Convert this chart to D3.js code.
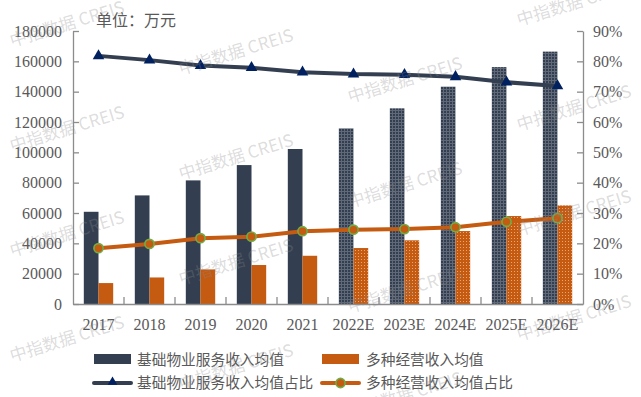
<!DOCTYPE html>
<html>
<head>
<meta charset="utf-8">
<script src="https://cdn.jsdelivr.net/npm/d3@7"></script>
<style>
  body { margin: 0; background: #fff; }
  svg { display: block; }
</style>
</head>
<body>
<svg id="chart" width="641" height="397"></svg>
<script>
// values (万元 and %)
var categories = ['2017', '2018', '2019', '2020', '2021', '2022E', '2023E', '2024E', '2025E', '2026E'];
var basicIncome = [60800, 71600, 81500, 91600, 102200, 115800, 129000, 143300, 156200, 166400];
var diversifiedIncome = [13800, 17500, 22800, 25700, 31800, 36900, 42000, 48100, 58000, 65000];
var basicShare = [81.8, 80.4, 78.6, 77.9, 76.4, 75.8, 75.6, 74.9, 73.1, 71.9];
var diversifiedShare = [18.4, 19.8, 21.7, 22.2, 24.0, 24.5, 24.7, 25.3, 27.1, 28.3];
var leftTicks = [0, 20000, 40000, 60000, 80000, 100000, 120000, 140000, 160000, 180000];
var rightTicks = [0, 10, 20, 30, 40, 50, 60, 70, 80, 90];
var firstEstimate = 5; // bars from 2022E on are drawn with a dotted fill

var darkColor = '#333f50';
var orangeColor = '#c55a11';
var textColor = '#595959';
var axisColor = '#8c8c8c';
var numFont = '"Liberation Serif", "DejaVu Serif", serif';
var cjkFont = '"Noto Sans CJK SC", sans-serif';

var svg = d3.select('#chart');
// note: "top" is taken by window.top, so use plot* names
var plotLeft = 73, plotRight = 583, plotTop = 31, plotBottom = 304;

var x = d3.scaleBand().domain(categories).range([plotLeft, plotRight]).padding(0);
var y = d3.scaleLinear().domain([0, 180000]).range([plotBottom, plotTop]);
var y2 = d3.scaleLinear().domain([0, 90]).range([plotBottom, plotTop]);
var barW = x.bandwidth() * 0.288;

// textured fills for the estimate years
var defs = svg.append('defs');
var pd = defs.append('pattern')
    .attr('id', 'darkDots').attr('patternUnits', 'userSpaceOnUse')
    .attr('width', 3).attr('height', 3);
pd.append('rect').attr('width', 3).attr('height', 3).attr('fill', '#5f6978');
pd.append('rect').attr('width', 2).attr('height', 2).attr('fill', darkColor);

var po = defs.append('pattern')
    .attr('id', 'orangeDots').attr('patternUnits', 'userSpaceOnUse')
    .attr('width', 3).attr('height', 3);
po.append('rect').attr('width', 3).attr('height', 3).attr('fill', orangeColor);
po.append('rect').attr('x', 1).attr('y', 1).attr('width', 1).attr('height', 1).attr('fill', '#eaa678');

var rows = categories.map(function (c, i) {
    return { cat: c, i: i, basic: basicIncome[i], div: diversifiedIncome[i],
             bs: basicShare[i], ds: diversifiedShare[i] };
});

// bars
svg.append('g').selectAll('rect')
    .data(rows).enter().append('rect')
    .attr('x', function (d) { return x(d.cat) + x.bandwidth() / 2 - barW; })
    .attr('y', function (d) { return y(d.basic); })
    .attr('width', barW)
    .attr('height', function (d) { return plotBottom - y(d.basic); })
    .attr('fill', function (d) { return d.i >= firstEstimate ? 'url(#darkDots)' : darkColor; });

svg.append('g').selectAll('rect')
    .data(rows).enter().append('rect')
    .attr('x', function (d) { return x(d.cat) + x.bandwidth() / 2; })
    .attr('y', function (d) { return y(d.div); })
    .attr('width', barW)
    .attr('height', function (d) { return plotBottom - y(d.div); })
    .attr('fill', function (d) { return d.i >= firstEstimate ? 'url(#orangeDots)' : orangeColor; });

// axes
function styleAxis(g) {
    g.selectAll('path').attr('stroke', axisColor).attr('stroke-width', 1.3);
    g.selectAll('line').attr('stroke', axisColor).attr('stroke-width', 1.3);
    g.selectAll('text').attr('fill', textColor).attr('font-family', numFont).attr('font-size', '16px');
}

svg.append('g')
    .attr('transform', 'translate(' + plotLeft + ',0)')
    .call(d3.axisLeft(y).tickValues(leftTicks).tickSizeInner(-6).tickSizeOuter(0).tickPadding(11)
        .tickFormat(function (d) { return String(d); }))
    .call(styleAxis);

svg.append('g')
    .attr('transform', 'translate(' + plotRight + ',0)')
    .call(d3.axisRight(y2).tickValues(rightTicks).tickSizeInner(-6).tickSizeOuter(0).tickPadding(10)
        .tickFormat(function (d) { return d + '%'; }))
    .call(styleAxis);

var xAxis = svg.append('g')
    .attr('transform', 'translate(0,' + plotBottom + ')')
    .call(d3.axisBottom(x).tickSize(0).tickPadding(15))
    .call(styleAxis);
// tick marks sit between the categories and point up
xAxis.selectAll('.sep')
    .data(categories.slice(1)).enter().append('line')
    .attr('x1', function (d) { return x(d); })
    .attr('x2', function (d) { return x(d); })
    .attr('y1', 0).attr('y2', -7)
    .attr('stroke', axisColor).attr('stroke-width', 1.3);

// share lines
var cx = function (d) { return x(d.cat) + x.bandwidth() / 2; };
var triangle = d3.symbol().type(d3.symbolTriangle).size(58);

svg.append('path')
    .datum(rows)
    .attr('fill', 'none').attr('stroke', darkColor).attr('stroke-width', 4)
    .attr('d', d3.line().x(cx).y(function (d) { return y2(d.bs); }));
svg.append('g').selectAll('path')
    .data(rows).enter().append('path')
    .attr('d', triangle)
    .attr('transform', function (d) { return 'translate(' + cx(d) + ',' + y2(d.bs) + ')'; })
    .attr('fill', '#002060');

svg.append('path')
    .datum(rows)
    .attr('fill', 'none').attr('stroke', orangeColor).attr('stroke-width', 4)
    .attr('d', d3.line().x(cx).y(function (d) { return y2(d.ds); }));
svg.append('g').selectAll('circle')
    .data(rows).enter().append('circle')
    .attr('cx', cx)
    .attr('cy', function (d) { return y2(d.ds); })
    .attr('r', 4.6)
    .attr('fill', orangeColor).attr('stroke', '#70ad47').attr('stroke-width', 1.6);

// unit label
svg.append('text')
    .attr('x', 96).attr('y', 26)
    .attr('fill', textColor).attr('font-family', cjkFont).attr('font-size', '16px')
    .text('单位：万元');

// legend
var leg = svg.append('g').attr('font-family', cjkFont).attr('font-size', '14.7px').attr('fill', textColor);
leg.append('rect').attr('x', 94).attr('y', 354).attr('width', 37).attr('height', 10).attr('fill', darkColor);
leg.append('text').attr('x', 137).attr('y', 364.5).text('基础物业服务收入均值');
leg.append('rect').attr('x', 322).attr('y', 354).attr('width', 37).attr('height', 10).attr('fill', orangeColor);
leg.append('text').attr('x', 366).attr('y', 364.5).text('多种经营收入均值');

leg.append('line').attr('x1', 94).attr('x2', 131).attr('y1', 383).attr('y2', 383)
    .attr('stroke', darkColor).attr('stroke-width', 4).attr('stroke-linecap', 'round');
leg.append('path').attr('d', d3.symbol().type(d3.symbolTriangle).size(40))
    .attr('transform', 'translate(112.5,382)').attr('fill', '#002060');
leg.append('text').attr('x', 137).attr('y', 388).text('基础物业服务收入均值占比');
leg.append('line').attr('x1', 322).attr('x2', 359).attr('y1', 383).attr('y2', 383)
    .attr('stroke', orangeColor).attr('stroke-width', 4).attr('stroke-linecap', 'round');
leg.append('circle').attr('cx', 340.5).attr('cy', 383).attr('r', 4.6)
    .attr('fill', orangeColor).attr('stroke', '#70ad47').attr('stroke-width', 1.6);
leg.append('text').attr('x', 366).attr('y', 388).text('多种经营收入均值占比');

// watermark grid (staggered columns, only the ones that show)
var marks = [];
for (var col = 0; col < 4; col++) {
    for (var k = -1; k < 4; k++) {
        var my = 24 + 28 * col + 105 * k;
        if (my > -20 && my < 420) marks.push([67 + 169 * col, my]);
    }
}
svg.append('g').selectAll('text')
    .data(marks).enter().append('text')
    .attr('transform', function (d) { return 'translate(' + d[0] + ',' + d[1] + ') rotate(-17)'; })
    .attr('text-anchor', 'middle').attr('dy', '0.35em')
    .attr('font-family', cjkFont).attr('font-size', '17px')
    .attr('fill', '#8a8a8a').attr('fill-opacity', 0.3)
    .text('中指数据 CREIS');
</script>
</body>
</html>
